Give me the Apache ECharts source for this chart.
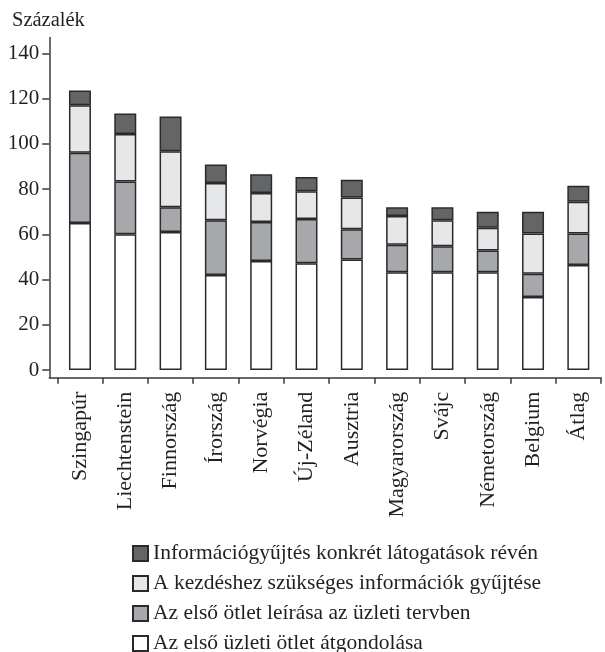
<!DOCTYPE html>
<html>
<head>
<meta charset="utf-8">
<script src="https://cdn.jsdelivr.net/npm/echarts@6/dist/echarts.min.js"></script>
<style>
html,body{margin:0;padding:0;background:#fff;}
#chart{width:605px;height:652px;}
</style>
</head>
<body>
<div id="chart"></div>
<script>
const categories = ['Szingapúr','Liechtenstein','Finnország','Írország','Norvégia','Új-Zéland','Ausztria','Magyarország','Svájc','Németország','Belgium','Átlag'];
const atgondolas = [65, 60, 61, 42, 48.2, 47.2, 48.9, 43.2, 43.2, 43.2, 32.3, 46.4];
const leiras = [31, 23.3, 11, 24.2, 17.2, 19.6, 13.3, 12.2, 11.5, 9.6, 10.3, 14];
const gyujtes = [21, 21, 24.7, 16.5, 12.8, 12.2, 14.1, 12.7, 11.5, 10.1, 17.7, 14];
const latogatas = [6.6, 9.1, 15.4, 8.2, 8.3, 6.3, 7.8, 3.8, 5.7, 7.1, 9.7, 7.1];
const yTicks = [0, 20, 40, 60, 80, 100, 120, 140];
const seriesNames = [
  'Az első üzleti ötlet átgondolása',
  'Az első ötlet leírása az üzleti tervben',
  'A kezdéshez szükséges információk gyűjtése',
  'Információgyűjtés konkrét látogatások révén'
];
const legendOrder = [seriesNames[3], seriesNames[2], seriesNames[1], seriesNames[0]];

const FONT = 'Liberation Serif';
const TXT = '#231f20';
const AX = '#3a3a3a';
const BORDER = '#2a2a2a';
const fills = ['#ffffff', '#a6a8ab', '#e6e7e8', '#646567'];
const values = [atgondolas, leiras, gyujtes, latogatas];

const chart = echarts.init(document.getElementById('chart'), null, {renderer: 'canvas'});
const option = {
  animation: false,
  backgroundColor: '#ffffff',
  title: {
    text: 'Százalék', left: 12, top: 10, padding: 0,
    textStyle: {fontFamily: FONT, fontSize: 20.5, fontWeight: 'normal', color: TXT}
  },
  grid: [
    {left: 49.3, right: 4, top: 37.5, bottom: 274.3},
    {left: 57.3, right: 4, top: 37.5, bottom: 274.3}
  ],
  xAxis: [
    {
      gridIndex: 0, type: 'value', min: 0, max: 1,
      axisLine: {show: true, onZero: false, lineStyle: {color: AX, width: 1.5}},
      axisTick: {show: false}, axisLabel: {show: false}, splitLine: {show: false}
    },
    {
      gridIndex: 1, type: 'category', data: categories,
      axisLine: {show: false, onZero: false},
      axisTick: {show: true, length: 6, lineStyle: {color: AX, width: 1.5}},
      axisLabel: {rotate: 90, margin: 14, interval: 0, fontFamily: FONT, fontSize: 22, color: TXT},
      splitLine: {show: false}
    }
  ],
  yAxis: [
    {
      gridIndex: 0, type: 'value', min: -3.4, max: 147,
      axisLine: {show: true, onZero: false, lineStyle: {color: AX, width: 1.5}},
      axisTick: {show: true, length: 7, customValues: yTicks, lineStyle: {color: AX, width: 1.5}},
      axisLabel: {customValues: yTicks, margin: 10, fontFamily: FONT, fontSize: 21, color: TXT},
      splitLine: {show: false}
    },
    {gridIndex: 1, type: 'value', min: -3.4, max: 147, show: false, splitLine: {show: false}}
  ],
  legend: {
    data: legendOrder,
    orient: 'vertical', left: 132, top: 542.5, height: 130, width: 470, padding: 0,
    itemWidth: 15, itemHeight: 15, itemGap: 8, itemTextGap: 11,
    icon: 'rect',
    textStyle: {fontFamily: FONT, fontSize: 21.5, color: TXT}
  },
  series: seriesNames.map((name, i) => ({
    name: name, type: 'bar', stack: 'total',
    xAxisIndex: 1, yAxisIndex: 1,
    barWidth: 22,
    data: values[i],
    itemStyle: {color: fills[i], borderColor: BORDER, borderWidth: 1.5}
  }))
};
chart.setOption(option);
</script>
</body>
</html>
